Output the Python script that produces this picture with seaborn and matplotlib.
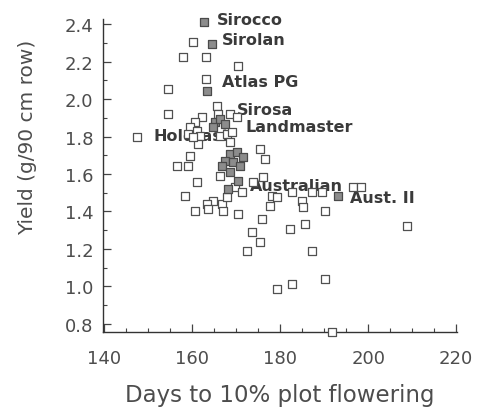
import numpy as np
import pandas as pd
import matplotlib
matplotlib.use("Agg")
import matplotlib.pyplot as plt
from matplotlib.ticker import MultipleLocator
import seaborn as sns

# ---- data ----
open_days = [160.2, 157.9, 163.1, 170.4, 163.1, 154.5, 154.5, 165.6, 147.5, 162.2,
             160.6, 159.5, 159.0, 161.1, 161.8, 161.3, 160.2, 165.9, 168.6, 170.2,
             166.3, 167.9, 169.0, 168.6, 175.4, 176.5, 159.5, 156.6, 159.0, 161.1,
             158.4, 166.8, 164.7, 163.4, 166.3, 176.1, 173.8, 169.7, 171.3, 167.9,
             160.6, 163.6, 167.0, 170.4, 178.1, 179.2, 177.6, 182.6, 184.9, 185.1,
             187.2, 189.4, 196.5, 198.3, 190.1, 175.8, 185.6, 182.2, 173.6, 175.4,
             172.4, 187.2, 208.9, 179.2, 182.6, 190.1, 191.7]
open_yield = [2.304, 2.224, 2.224, 2.176, 2.107, 2.053, 1.920, 1.963, 1.797, 1.904,
              1.877, 1.851, 1.813, 1.829, 1.803, 1.760, 1.797, 1.920, 1.920, 1.904,
              1.803, 1.813, 1.824, 1.771, 1.733, 1.680, 1.696, 1.643, 1.643, 1.557,
              1.483, 1.440, 1.456, 1.440, 1.589, 1.584, 1.557, 1.531, 1.504, 1.477,
              1.403, 1.413, 1.403, 1.387, 1.483, 1.477, 1.429, 1.504, 1.456, 1.424,
              1.504, 1.504, 1.531, 1.531, 1.403, 1.360, 1.333, 1.307, 1.291, 1.237,
              1.189, 1.189, 1.323, 0.987, 1.013, 1.040, 0.757]

filled_days = [162.7, 164.5, 163.4, 165.2, 166.3, 167.4, 164.7, 168.6, 170.2, 171.5,
               167.4, 169.3, 170.8, 166.8, 168.6, 170.4, 168.1, 193.1]
filled_yield = [2.411, 2.293, 2.043, 1.877, 1.893, 1.867, 1.851, 1.707, 1.717, 1.691,
                1.669, 1.664, 1.643, 1.643, 1.611, 1.563, 1.520, 1.483]

cultivars = ["Sirocco", "Sirolan", "Atlas PG", "Sirosa", "Landmaster",
             "Holdfast", "Australian", "Aust. II"]
cultivar_x = [165.6, 166.8, 166.8, 170.2, 172.0, 151.1, 173.1, 195.8]
cultivar_y = [2.427, 2.320, 2.096, 1.947, 1.851, 1.803, 1.536, 1.477]

x_ticks = [140, 160, 180, 200, 220]
y_ticks = [0.8, 1.0, 1.2, 1.4, 1.6, 1.8, 2.0, 2.2, 2.4]

# ---- plot ----
sns.set_style("ticks")
plt.rcParams["font.family"] = ["DejaVu Sans"]
TXT = "#4d4d4d"

df_open = pd.DataFrame({"days": open_days, "yield": open_yield})
df_fill = pd.DataFrame({"days": filled_days, "yield": filled_yield})

fig = plt.figure(figsize=(4.79, 4.10), dpi=100)
ax = fig.add_axes([0.215, 0.188, 0.739, 0.763])

sns.scatterplot(data=df_open, x="days", y="yield", marker="s", s=26,
                facecolor="white", edgecolor="#505050", linewidth=0.9,
                ax=ax, zorder=3, clip_on=False)
sns.scatterplot(data=df_fill, x="days", y="yield", marker="s", s=30,
                facecolor="#8c8c8c", edgecolor="#4a4a4a", linewidth=0.9,
                ax=ax, zorder=4, clip_on=False)

for name, tx, ty in zip(cultivars, cultivar_x, cultivar_y):
    ax.text(tx, ty, name, fontsize=11.5, color="#3a3a3a", ha="left",
            va="center", zorder=2, fontweight="semibold", clip_on=False)

ax.set_xlim(139.7, 220.2)
ax.set_ylim(0.757, 2.427)
ax.set_xticks(x_ticks)
ax.set_xticklabels([str(v) for v in x_ticks])
ax.set_yticks(y_ticks)
ax.set_yticklabels([f"{v:.1f}" for v in y_ticks])
ax.xaxis.set_minor_locator(MultipleLocator(5))
ax.yaxis.set_minor_locator(MultipleLocator(0.1))
ax.tick_params(axis="both", which="major", direction="in", length=6,
               width=0.9, color="#444444", labelsize=13, labelcolor=TXT)
ax.tick_params(axis="x", which="major", pad=12)
ax.tick_params(axis="y", which="major", pad=7)
ax.tick_params(axis="both", which="minor", direction="in", length=3,
               width=0.8, color="#444444")
for side in ["top", "right"]:
    ax.spines[side].set_visible(False)
for side in ["left", "bottom"]:
    ax.spines[side].set_color("#333333")
    ax.spines[side].set_linewidth(1.0)

ax.set_xlabel("Days to 10% plot flowering", fontsize=16.5, color=TXT, labelpad=12)
ax.set_ylabel("Yield (g/90 cm row)", fontsize=14.5, color=TXT)
ax.yaxis.set_label_coords(-0.186, 0.626)

fig.savefig("out.png", dpi=100, facecolor="white")
